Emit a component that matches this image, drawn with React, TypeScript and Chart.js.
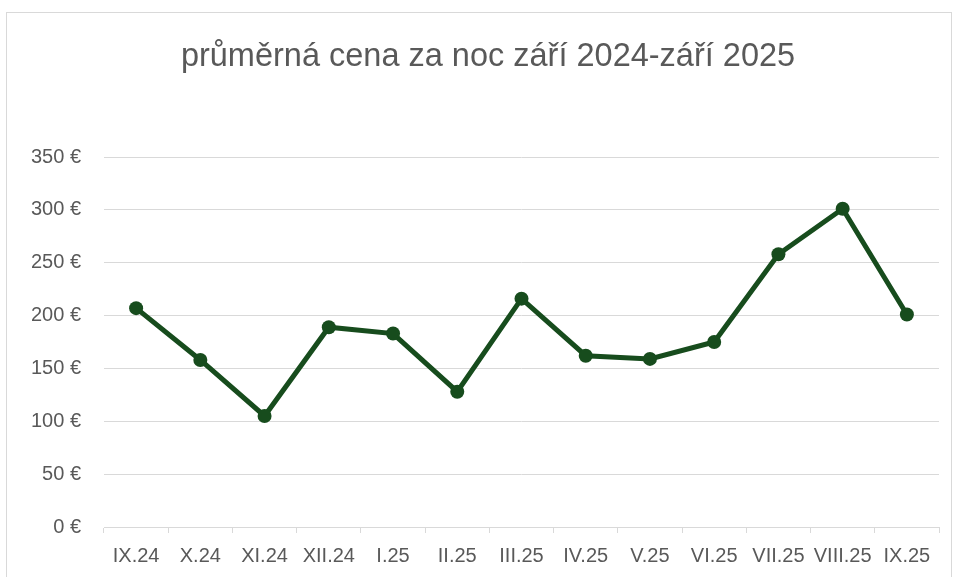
import React, { useEffect, useRef } from "react";
import { Chart, registerables } from "chart.js";

Chart.register(...registerables);

const title = "průměrná cena za noc září 2024-září 2025";
const categories = ["IX.24", "X.24", "XI.24", "XII.24", "I.25", "II.25", "III.25", "IV.25", "V.25", "VI.25", "VII.25", "VIII.25", "IX.25"];
const prices = [207, 158, 105, 189, 183, 128, 216, 162, 159, 175, 258, 301, 201];
const yMin = 0;
const yMax = 350;
const yStep = 50;
const currency = "€";

const FONT = "'Liberation Sans', Arial, sans-serif";
const TEXT = "#595959";
const GRID = "#d9d9d9";
const LINE = "#174c1d";

// shifts the title's horizontal band so it centres like the reference
const titleBand = {
  id: "titleBand",
  afterLayout(chart: any) {
    const t = chart.titleBlock;
    if (t) {
      t.left = 37;
      t.right = chart.chartArea.right;
      t.width = t.right - t.left;
    }
  },
};

export default function App() {
  const ref = useRef<HTMLCanvasElement | null>(null);
  useEffect(() => {
    if (!ref.current) return;
    const chart = new Chart(ref.current, {
      type: "line",
      data: {
        labels: categories,
        datasets: [
          {
            data: prices,
            borderColor: LINE,
            backgroundColor: LINE,
            borderWidth: 5,
            pointRadius: 7,
            pointHoverRadius: 7,
            pointBackgroundColor: LINE,
            pointBorderColor: LINE,
            pointBorderWidth: 0,
            tension: 0,
          },
        ],
      },
      options: {
        responsive: false,
        animation: false,
        layout: { padding: { left: 0, right: 16, top: 0, bottom: 0 } },
        plugins: {
          legend: { display: false },
          tooltip: { enabled: false },
          title: {
            display: true,
            text: title,
            color: TEXT,
            font: { family: FONT, size: 32.5, weight: "normal" },
            padding: { top: 38, bottom: 80 },
          },
        },
        scales: {
          x: {
            type: "category",
            offset: true,
            grid: {
              offset: true,
              drawOnChartArea: false,
              drawTicks: true,
              tickLength: 6,
              color: GRID,
              lineWidth: 1,
            },
            border: { display: true, color: GRID, width: 1 },
            ticks: {
              color: TEXT,
              font: { family: FONT, size: 20 },
              padding: 11,
              maxRotation: 0,
              autoSkip: false,
            },
            afterFit: (s: any) => {
              s.height = 50;
            },
          },
          y: {
            min: yMin,
            max: yMax,
            grid: { color: GRID, lineWidth: 1, drawTicks: false },
            border: { display: false },
            ticks: {
              stepSize: yStep,
              color: TEXT,
              font: { family: FONT, size: 20 },
              padding: 23,
              callback: (v: any) => `${v} ${currency}`,
            },
            afterFit: (s: any) => {
              s.width = 104;
            },
          },
        },
      } as any,
      plugins: [titleBand],
    });
    return () => chart.destroy();
  }, []);

  return (
    <div style={{ position: "fixed", left: 0, top: 0, width: 955, height: 577, overflow: "hidden", background: "#fff" }}>
      <div
        style={{
          position: "absolute",
          left: 6,
          top: 12,
          width: 946,
          height: 600,
          border: `1px solid ${GRID}`,
          boxSizing: "border-box",
        }}
      />
      <canvas ref={ref} width={955} height={577} style={{ position: "absolute", left: 0, top: 0 }} />
    </div>
  );
}
